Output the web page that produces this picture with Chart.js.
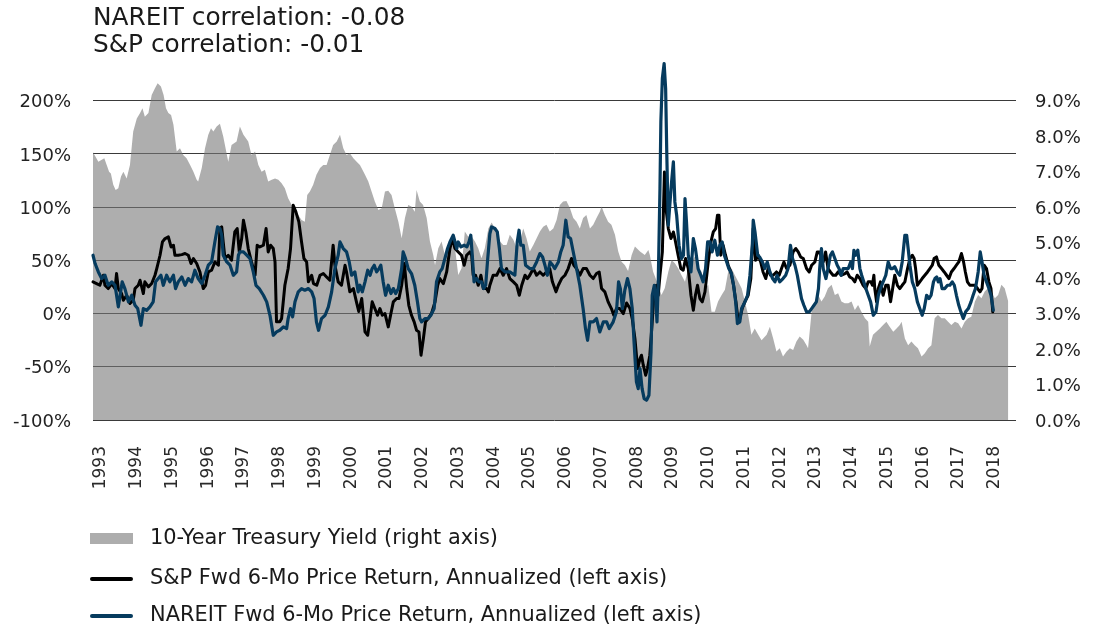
<!DOCTYPE html>
<html>
<head>
<meta charset="utf-8">
<script src="https://cdn.jsdelivr.net/npm/chart.js@4.4.1/dist/chart.umd.min.js"></script>
<style>
  body { margin: 0; background: #fff; }
  #wrap { position: relative; width: 1097px; height: 631px; font-family: "DejaVu Sans", sans-serif; color: #1a1a1a; }
  #chart { position: absolute; left: 0; top: 0; }
  .title { position: absolute; left: 93px; top: 3px; font-size: 24.8px; line-height: 27px; white-space: nowrap; }
  .leg-text { position: absolute; left: 150px; font-size: 20.9px; line-height: 24px; white-space: nowrap; }
  .swatch { position: absolute; left: 90px; width: 43px; }
</style>
</head>
<body>
<div id="wrap">
  <canvas id="chart" width="1097" height="631"></canvas>
  <div class="title">NAREIT correlation: -0.08<br>S&amp;P correlation: -0.01</div>

  <div class="swatch" style="top:533px;height:11px;background:#adadad"></div>
  <div class="leg-text" style="top:525px">10-Year Treasury Yield (right axis)</div>
  <div class="swatch" style="top:577px;height:4px;background:#000;border-radius:2px"></div>
  <div class="leg-text" style="top:565px">S&amp;P Fwd 6-Mo Price Return, Annualized (left axis)</div>
  <div class="swatch" style="top:614px;height:4px;background:#063b5e;border-radius:2px"></div>
  <div class="leg-text" style="top:602px">NAREIT Fwd 6-Mo Price Return, Annualized (left axis)</div>
</div>

<script>
// x values are months after Nov 1992 (first point of the chart)
const START_YEAR = 1992 + 10 / 12;

const yearLabels = [1993, 1994, 1995, 1996, 1997, 1998, 1999, 2000, 2001, 2002, 2003, 2004, 2005,
  2006, 2007, 2008, 2009, 2010, 2011, 2012, 2013, 2014, 2015, 2016, 2017, 2018];
const leftTicks = [-100, -50, 0, 50, 100, 150, 200];
const rightTicks = [0, 1, 2, 3, 4, 5, 6, 7, 8, 9];

// 10-Year Treasury Yield (right axis, %)
const yieldMonths = [0, 1.8, 3.8, 4.6, 5.4, 6.0, 6.8, 7.6, 8.5, 9.4, 10.2, 11.3, 12.4, 13.5, 14.7, 15.8,
  16.6, 17.4, 18.6, 19.7, 20.8, 21.7, 22.8, 23.7, 24.5, 25.3, 26.2, 27.0, 28.1, 29.2, 30.3, 31.4, 32.6,
  33.7, 34.8, 35.3, 36.5, 37.6, 38.7, 39.6, 40.4, 41.5, 42.6, 43.7, 45.4, 46.5, 48.2, 49.3, 50.5, 52.1,
  53.2, 54.4, 55.5, 56.6, 57.7, 58.8, 60.0, 61.1, 62.2, 63.3, 64.4, 65.5, 66.7, 67.8, 68.9, 70.0, 71.1,
  71.9, 72.8, 73.9, 75.0, 76.2, 77.3, 78.4, 79.5, 80.6, 81.8, 82.9, 84.0, 85.1, 86.2, 87.4, 88.5, 89.6,
  91.3, 92.4, 93.5, 94.6, 95.8, 96.9, 98.0, 99.1, 100.2, 101.3, 102.5, 103.6, 104.7, 105.8, 106.9, 108.0,
  108.6, 109.7, 110.8, 112.0, 113.1, 114.2, 114.8, 115.9, 117.0, 118.1, 119.3, 120.4, 121.5, 122.6, 123.7,
  124.8, 125.9, 127.1, 128.2, 129.3, 130.4, 131.5, 132.7, 133.8, 135.5, 136.6, 137.7, 138.8, 139.9, 141.1,
  142.2, 143.3, 144.4, 145.5, 146.6, 147.8, 148.9, 150.0, 151.1, 152.2, 153.3, 154.5, 155.6, 156.7, 157.8,
  158.9, 160.1, 161.2, 162.3, 163.4, 164.5, 165.6, 166.8, 167.9, 169.0, 170.1, 170.7, 171.8, 172.9, 174.0,
  175.2, 176.3, 177.4, 178.5, 179.6, 180.8, 181.9, 183.6, 185.2, 186.4, 186.9, 188.0, 189.7, 190.8, 191.9,
  193.1, 194.2, 195.3, 196.4, 197.5, 198.7, 199.8, 200.9, 202.0, 203.1, 204.3, 205.4, 206.5, 207.6, 208.7,
  209.8, 211.0, 212.1, 213.2, 214.3, 215.4, 216.6, 217.7, 218.8, 219.9, 221.0, 222.1, 223.3, 224.4, 226.1,
  227.2, 228.3, 229.4, 230.5, 231.6, 232.8, 233.9, 235.0, 236.1, 237.2, 238.4, 239.5, 240.0, 241.2, 242.3,
  243.4, 244.5, 245.6, 246.7, 247.9, 249.0, 250.1, 251.2, 252.3, 253.5, 254.6, 255.7, 256.8, 257.9, 259.1,
  260.2, 260.7, 261.8, 262.9, 264.1, 265.2, 266.3, 267.4, 268.6, 269.7, 270.8, 271.4, 272.5, 273.6, 274.7,
  275.8, 276.9, 278.1, 279.2, 280.3, 281.4, 282.5, 283.6, 284.8, 285.9, 287.0, 288.1, 289.3, 290.4, 291.5,
  292.6, 293.7, 294.8, 296.0, 297.1, 298.2, 299.3, 300.4, 301.6, 302.7, 303.8, 304.9, 306.0, 307.2];
const yieldValues = [7.55, 7.28, 7.38, 7.19, 7.0, 6.95, 6.63, 6.48, 6.53, 6.86, 7.0, 6.81, 7.19, 8.13, 8.5, 8.65,
  8.79, 8.55, 8.65, 9.16, 9.35, 9.49, 9.40, 9.16, 8.79, 8.65, 8.6, 8.32, 7.57, 7.66, 7.47, 7.38, 7.19,
  7.0, 6.77, 6.72, 7.1, 7.66, 8.04, 8.22, 8.13, 8.27, 8.35, 8.0, 7.28, 7.75, 7.85, 8.27, 8.04, 7.85,
  7.47, 7.57, 7.19, 7.0, 7.05, 6.72, 6.77, 6.81, 6.77, 6.67, 6.53, 6.25, 6.06, 5.87, 5.78, 5.64, 5.59,
  6.34, 6.44, 6.63, 6.91, 7.10, 7.19, 7.19, 7.47, 7.75, 7.85, 8.04, 7.66, 7.47, 7.52, 7.38, 7.28, 7.19,
  6.91, 6.72, 6.44, 6.16, 5.92, 5.97, 6.44, 6.46, 6.34, 5.97, 5.59, 5.12, 5.69, 6.06, 6.02, 5.87,
  6.48, 6.16, 6.06, 5.69, 5.03, 4.65, 4.37, 4.84, 5.03, 4.65, 4.84, 4.93, 4.84, 4.09, 4.28,
  5.31, 5.17, 5.17, 5.03, 4.84, 4.56, 4.84, 5.40, 5.57, 5.31, 5.03, 4.93, 4.93, 5.22, 5.08,
  4.84, 5.03, 5.40, 5.12, 4.75, 4.93, 5.12, 5.31, 5.45, 5.50, 5.31, 5.40, 5.64, 6.06, 6.16,
  6.17, 5.97, 5.69, 5.59, 5.40, 5.69, 5.78, 5.40, 5.50, 5.69, 5.87, 6.02, 5.78, 5.59, 5.50,
  5.22, 4.75, 4.46, 4.37, 4.2, 4.65, 4.89, 4.75, 4.65, 4.79, 4.65, 4.18, 3.81, 3.52, 3.71,
  4.18, 4.51, 4.42, 4.28, 4.09, 3.90, 4.28, 4.46, 4.61, 4.28, 4.18, 3.71, 3.81, 3.05, 3.05,
  3.34, 3.52, 3.67, 4.18, 4.28, 4.09, 3.90, 3.71, 3.34, 2.96, 2.40, 2.58, 2.40, 2.25, 2.40,
  2.63, 2.30, 1.93, 2.02, 1.79, 1.93, 2.02, 1.97, 2.21, 2.35, 2.26, 2.11, 2.02, 3.05, 3.34,
  3.52, 3.34, 3.48, 3.71, 3.81, 3.52, 3.57, 3.34, 3.29, 3.29, 3.34, 3.10, 3.24, 3.05, 2.87,
  2.77, 2.07, 2.40, 2.49, 2.58, 2.68, 2.77, 2.63, 2.49, 2.58, 2.68, 2.77, 2.30, 2.11, 2.21,
  2.11, 2.02, 1.79, 1.88, 2.02, 2.11, 2.87, 2.96, 2.87, 2.87, 2.77, 2.68, 2.77, 2.73, 2.58,
  2.77, 2.87, 2.91, 3.34, 3.52, 3.43, 3.62, 3.71, 3.62, 3.43, 3.52, 3.81, 3.71, 3.34];

// S&P forward 6-month price return, annualized (left axis, %)
const spMonths = [0, 1.2, 2.3, 3.5, 4.0, 5.1, 6.3, 7.4, 7.9, 8.5, 9.6, 10.2, 11.3, 12.4, 13.5, 14.1, 15.2,
  15.8, 16.9, 17.4, 18.6, 19.7, 20.8, 21.4, 22.5, 23.3, 24.2, 25.3, 26.2, 27.0, 27.5, 28.6, 29.8, 30.9,
  32.0, 32.9, 33.7, 34.8, 35.9, 37.0, 37.8, 38.7, 39.8, 40.9, 42.1, 42.6, 43.2, 43.7, 44.3, 45.4, 46.5,
  47.6, 48.4, 49.1, 49.9, 50.5, 51.3, 52.1, 53.2, 54.4, 55.1, 56.0, 57.2, 58.1, 58.8, 59.6, 60.5, 61.1,
  61.6, 62.7, 63.3, 64.4, 65.5, 66.3, 67.2, 68.1, 69.1, 70.0, 70.8, 71.7, 72.3, 73.4, 74.0, 75.1, 76.2,
  77.3, 78.4, 79.5, 80.6, 81.2, 82.3, 83.4, 84.6, 85.1, 86.2, 87.4, 88.5, 89.2, 90.2, 91.3, 92.2, 93.0,
  93.7, 94.6, 95.5, 96.3, 97.1, 98.0, 99.1, 100.0, 100.8, 101.9, 102.7, 103.6, 104.5, 105.3, 106.0, 106.9,
  107.8, 108.6, 109.4, 110.1, 110.9, 111.6, 112.5, 113.6, 114.8, 115.7, 116.4, 117.6, 118.7, 119.8, 120.6,
  121.5, 122.6, 123.7, 124.6, 125.4, 126.5, 127.1, 127.6, 128.4, 129.3, 130.2, 131.0, 132.1, 132.7, 133.2,
  134.3, 135.5, 136.6, 137.7, 138.8, 139.9, 141.1, 142.2, 143.1, 143.9, 145.0, 145.8, 146.6, 147.8, 148.9,
  150.0, 151.1, 152.2, 153.3, 154.2, 155.4, 156.2, 157.3, 158.4, 159.5, 160.6, 161.4, 162.3, 163.4, 164.5,
  165.6, 166.8, 167.9, 169.0, 169.9, 170.7, 171.8, 172.9, 174.0, 174.8, 175.7, 176.8, 178.0, 179.1, 180.2,
  181.0, 181.9, 182.8, 183.6, 184.1, 184.7, 185.5, 186.1, 186.9, 187.7, 188.4, 189.1, 189.7, 190.3, 191.1,
  191.8, 192.2, 193.1, 194.0, 194.8, 195.3, 196.4, 197.3, 198.1, 198.9, 199.8, 200.7, 201.5, 202.2, 202.9,
  203.7, 204.5, 205.4, 206.5, 207.4, 208.2, 209.0, 209.6, 210.1, 210.7, 211.5, 212.3, 213.2, 214.1, 215.0,
  215.8, 216.6, 217.1, 217.9, 218.8, 219.9, 220.8, 221.6, 222.4, 223.3, 224.1, 224.9, 225.8, 226.6, 227.4,
  228.3, 229.4, 230.3, 231.1, 231.9, 232.8, 233.9, 235.0, 235.9, 236.7, 237.5, 238.4, 239.5, 240.4, 241.2,
  242.3, 243.1, 243.8, 244.6, 245.1, 245.9, 246.7, 247.5, 248.4, 249.3, 250.1, 251.2, 252.4, 253.1, 254.0,
  254.9, 255.7, 256.5, 257.4, 258.5, 259.4, 260.2, 261.1, 261.6, 262.1, 262.4, 263.0, 263.6, 264.3, 265.2,
  266.1, 266.9, 267.7, 268.4, 269.1, 270.0, 270.8, 271.6, 272.5, 273.4, 274.2, 275.0, 275.6, 276.1, 276.7,
  277.5, 278.3, 279.2, 280.1, 280.9, 281.7, 282.3, 283.1, 283.9, 284.8, 285.7, 286.5, 287.3, 288.1, 289.0,
  289.8, 290.6, 291.5, 292.2, 292.8, 293.5, 294.3, 295.1, 296.0, 296.9, 297.7, 298.4, 299.1, 299.9, 300.7,
  301.4, 302.0];
const spValues = [29.8, 28.2, 26.6, 36.0, 26.6, 23.5, 28.2, 23.5, 37.6, 23.5, 18.8, 12.5, 17.2, 9.4, 12.5, 23.5, 26.6,
  31.3, 18.8, 29.8, 25.1, 28.2, 36.0, 42.3, 54.8, 67.3, 70.5, 72.0, 62.6, 64.2, 54.8, 54.8, 55.4, 56.4,
  54.8, 47.0, 51.7, 47.0, 39.1, 23.5, 26.6, 39.1, 40.7, 48.5, 45.4, 79.9, 81.4, 67.3, 51.7, 54.8, 50.1,
  76.7, 79.9, 57.9, 70.5, 87.7, 76.7, 61.1, 48.5, 36.0, 64.2, 62.6, 64.2, 79.9, 57.9, 64.2, 61.1, 48.5,
  -7.8, -7.8, -4.7, 26.6, 42.3, 61.1, 101.8, 95.5, 86.1, 67.3, 51.7, 48.5, 29.8, 36.0, 28.2, 26.6, 36.0,
  37.6, 34.4, 31.3, 64.2, 45.4, 29.8, 26.6, 45.4, 39.1, 20.4, 23.5, 10.0, 2.0, 14.1, -17.2, -20.4, -4.7,
  11.0, 4.7, -1.6, 4.7, -1.6, 0, -12.5, 0, 11.0, 14.1, 14.1, 26.6, 47.0, 23.5, 7.8, -1.6,
  -7.8, -15.7, -17.2, -39.1, -23.5, -7.8, -4.7, 0, 11.0, 26.6, 32.9, 28.2, 39.1, 61.1, 70.5,
  61.1, 57.9, 54.8, 45.4, 54.8, 57.9, 54.8, 36.0, 36.0, 26.6, 36.0, 23.5, 23.5, 20.4, 26.6,
  36.0, 36.0, 42.3, 36.0, 42.3, 32.9, 29.8, 26.6, 17.2, 26.6, 36.0, 32.9, 36.0, 42.3, 36.0,
  39.1, 36.0, 39.1, 42.3, 29.8, 20.4, 26.6, 32.9, 36.0, 42.3, 51.7, 45.4, 42.3, 36.0, 42.3,
  42.3, 36.0, 32.9, 37.6, 39.1, 23.5, 20.4, 11.0, 4.7, -1.6, 4.7, 4.7, 0, 10.0, 5.0,
  -5.0, -23.5, -51.7, -42.3, -39.1, -48.5, -57.9, -51.7, -39.1, -7.8, 23.5, 26.6, 17.2, 36.0, 57.9,
  133.1, 101.8, 79.9, 70.5, 76.7, 70.5, 54.8, 42.3, 40.7, 51.7, 42.3, 17.2, 3.1, 17.2, 26.6,
  14.1, 11.0, 20.4, 48.5, 67.3, 76.7, 79.9, 92.4, 92.4, 54.8, 64.2, 54.8, 45.4, 39.1, 26.6,
  11.0, -7.8, -4.7, 4.7, 11.0, 17.2, 32.9, 80.0, 50.0, 54.8, 48.5, 39.1, 32.9, 42.3, 36.0,
  36.0, 39.1, 36.0, 42.3, 48.5, 42.3, 45.4, 57.9, 61.1, 57.9, 53.2, 51.7, 42.3, 39.1, 45.4,
  48.5, 57.9, 57.9, 51.7, 48.5, 57.9, 42.3, 39.1, 36.0, 36.0, 39.1, 36.0, 37.6, 39.1, 34.4,
  32.9, 29.8, 36.0, 32.9, 26.6, 23.5, 29.8, 29.8, 26.6, 36.0, 23.5, 11.0, 23.5, 29.8, 17.2,
  26.6, 26.6, 11.0, 23.5, 36.0, 26.6, 23.5, 26.6, 29.8, 42.3, 51.7, 54.8, 51.7, 42.3, 26.6,
  29.8, 32.9, 36.0, 39.1, 42.3, 45.4, 51.7, 53.2, 45.4, 42.3, 39.1, 36.0, 32.9, 39.1, 42.3,
  45.4, 48.5, 56.4, 48.5, 39.1, 29.8, 26.6, 26.6, 26.6, 23.5, 20.4, 23.5, 45.4, 42.3, 29.8,
  23.5, 1.6];

// NAREIT forward 6-month price return, annualized (left axis, %)
const reitMonths = [0, 0.7, 1.8, 2.9, 4.0, 5.1, 6.3, 7.4, 8.5, 9.1, 9.8, 10.7, 11.9, 13.0, 14.1, 15.0, 16.1,
  16.9, 18.0, 19.1, 20.2, 21.0, 21.9, 22.8, 23.6, 24.7, 25.8, 27.0, 27.7, 28.6, 29.8, 30.9, 32.0, 33.1,
  34.2, 35.3, 36.5, 37.6, 38.7, 39.8, 40.9, 41.8, 42.6, 43.2, 43.7, 44.9, 46.0, 47.1, 48.2, 48.8, 49.3,
  50.5, 51.6, 52.7, 53.8, 54.7, 55.8, 57.2, 58.3, 59.4, 60.5, 61.6, 62.7, 63.9, 65.0, 65.5, 66.3, 67.0,
  67.8, 68.9, 70.0, 71.1, 72.3, 73.4, 74.2, 75.0, 75.7, 76.7, 77.9, 79.0, 80.1, 81.2, 82.3, 82.9, 84.0,
  85.1, 86.0, 86.8, 87.9, 89.0, 89.6, 90.4, 91.3, 92.2, 93.0, 93.7, 94.4, 95.2, 96.0, 96.6, 97.4, 98.2,
  99.1, 100.0, 100.8, 101.6, 102.5, 103.6, 104.1, 104.9, 105.8, 106.9, 108.0, 108.9, 109.7, 110.3, 111.4,
  112.5, 113.4, 114.5, 115.3, 116.4, 117.2, 118.1, 119.0, 119.8, 120.9, 122.1, 122.6, 123.5, 124.6, 125.5,
  126.2, 126.8, 127.3, 127.9, 128.7, 129.5, 130.4, 131.1, 131.8, 132.4, 133.2, 133.8, 134.9, 135.7, 136.4,
  137.1, 138.3, 139.9, 141.6, 142.4, 143.0, 143.6, 144.4, 145.2, 146.6, 147.8, 148.9, 150.0, 150.9, 151.7,
  152.5, 153.4, 154.3, 155.0, 156.2, 157.0, 157.8, 158.7, 159.5, 160.3, 161.2, 162.3, 163.4, 164.5, 165.3,
  166.0, 166.8, 167.9, 169.0, 170.1, 171.3, 172.4, 173.3, 174.6, 175.7, 176.4, 177.0, 177.7, 178.5, 179.4,
  180.2, 181.0, 181.6, 182.4, 183.0, 183.6, 184.3, 185.0, 185.8, 186.6, 187.3, 187.7, 188.4, 188.8, 189.3,
  189.7, 190.3, 190.6, 191.1, 191.7, 192.2, 192.6, 193.1, 193.6, 194.2, 194.8, 195.3, 195.9, 196.7, 197.5,
  198.2, 198.7, 199.2, 199.8, 200.7, 201.5, 202.2, 203.1, 204.0, 204.8, 205.6, 206.3, 207.1, 207.8, 208.7,
  209.6, 210.4, 211.2, 211.9, 212.7, 213.4, 214.3, 215.0, 215.7, 216.3, 217.1, 217.7, 218.8, 219.7, 220.5,
  221.3, 221.6, 222.2, 223.1, 223.8, 224.7, 225.5, 226.3, 227.2, 228.1, 228.9, 229.6, 230.5, 231.6, 232.5,
  233.3, 234.1, 234.8, 235.6, 236.4, 237.0, 237.8, 238.6, 239.5, 240.4, 241.2, 242.0, 242.8, 243.5, 243.9,
  244.5, 245.1, 246.0, 246.7, 247.5, 248.2, 249.0, 249.8, 250.4, 251.1, 251.8, 252.7, 253.5, 254.3, 254.9,
  255.4, 256.0, 256.7, 257.4, 258.0, 258.7, 259.4, 260.2, 261.0, 261.9, 262.8, 263.6, 264.3, 265.2, 266.1,
  266.9, 267.7, 268.4, 269.1, 269.9, 270.8, 271.6, 272.5, 273.1, 273.6, 274.2, 275.0, 275.8, 276.7, 277.5,
  278.3, 279.0, 279.8, 280.6, 281.3, 282.1, 282.6, 283.2, 283.7, 284.3, 285.0, 285.9, 286.8, 287.6, 288.4,
  289.1, 289.8, 290.6, 291.3, 292.1, 292.9, 293.8, 294.7, 295.4, 296.2, 297.1, 297.8, 298.4, 299.1, 299.9,
  300.7, 301.4, 302.2];
const reitValues = [54.8, 47.0, 39.1, 32.9, 36.0, 26.6, 29.8, 26.6, 6.3, 17.2, 29.8, 23.5, 11.0, 17.2, 7.8, 4.7, -11.0,
  4.7, 3.1, 6.3, 11.0, 29.8, 32.9, 36.0, 26.6, 36.0, 29.8, 36.0, 23.5, 29.8, 34.4, 26.6, 32.9, 29.8,
  40.7, 32.9, 28.2, 36.0, 45.4, 48.5, 67.3, 81.4, 79.9, 73.6, 54.8, 48.5, 45.4, 36.0, 39.1, 54.8, 57.9,
  57.9, 54.8, 51.7, 39.1, 26.6, 23.5, 17.2, 11.0, -1.6, -20.4, -17.2, -15.7, -12.5, -14.1, -4.7, 4.7, -3.1,
  11.0, 20.4, 23.5, 21.9, 23.5, 20.4, 14.1, -7.8, -15.7, -4.7, -1.6, 6.3, 20.4, 42.3, 54.8, 67.3, 61.1,
  57.9, 48.5, 36.0, 39.1, 20.4, 26.6, 20.4, 29.8, 40.7, 36.0, 42.3, 45.4, 39.1, 42.3, 45.4, 29.8, 17.2,
  26.6, 18.8, 23.5, 18.8, 23.5, 42.3, 57.9, 51.7, 42.3, 37.6, 26.6, 11.0, -4.7, -7.8, -4.7,
  -4.7, -1.6, 4.7, 29.8, 39.1, 42.3, 51.7, 61.1, 67.3, 73.6, 61.1, 67.3, 62.6, 64.2, 62.6,
  67.3, 73.6, 54.8, 29.8, 32.9, 29.8, 29.8, 23.5, 26.6, 48.5, 75.0, 81.4, 79.9, 76.7, 61.1,
  42.3, 39.1, 39.1, 36.0, 67.3, 78.3, 64.2, 64.2, 45.4, 42.3, 42.3, 48.5, 56.4, 53.2, 45.4,
  36.0, 48.5, 45.4, 42.3, 48.5, 57.9, 64.2, 87.7, 72.0, 70.5, 57.9, 42.3, 26.6, 4.7, -14.1,
  -25.1, -7.8, -7.8, -4.7, -17.2, -7.8, -7.8, -14.1, -7.8, 1.6, 29.8, 23.5, 4.7, 22.0, 32.9,
  23.5, 4.7, -26.6, -64.2, -70.5, -51.7, -70.5, -79.9, -81.4, -76.7, -36.0, 17.2, 26.6, 17.2, -7.8,
  26.6, 117.4, 180.1, 220.8, 234.9, 211.4, 148.8, 83.0, 101.8, 123.7, 142.5, 104.9, 92.4, 64.2, 51.7,
  54.8, 108.0, 86.1, 54.8, 39.1, 70.5, 61.1, 42.3, 36.0, 29.8, 42.3, 67.3, 67.3, 57.9, 68.9,
  54.8, 64.2, 67.3, 54.8, 48.5, 42.3, 37.6, 26.6, 11.0, -9.4, -7.8, 4.7, 11.0, 17.2, 36.0,
  64.2, 87.7, 76.7, 54.8, 53.0, 48.5, 42.3, 48.5, 39.1, 32.9, 29.8, 36.0, 29.8, 32.9, 36.0,
  42.3, 64.2, 51.7, 45.4, 36.0, 26.6, 14.1, 7.8, 1.6, 1.6, 4.7, 7.8, 11.0, 23.5, 42.3,
  61.1, 42.3, 32.9, 42.3, 54.8, 57.9, 51.7, 45.4, 42.3, 36.0, 42.3, 42.3, 42.3, 48.5, 42.3,
  59.5, 54.8, 59.5, 42.3, 36.0, 29.8, 23.5, 17.2, 11.0, -1.6, 1.6, 17.2, 23.5, 29.8, 36.0,
  48.5, 42.3, 42.3, 44.0, 39.1, 36.0, 48.5, 73.6, 73.6, 61.1, 45.4, 29.8, 23.5, 11.0, 4.7,
  -1.6, 4.7, 17.2, 14.1, 17.2, 29.8, 32.9, 34.4, 29.8, 32.9, 23.5, 23.5, 26.6, 26.6, 29.8,
  26.6, 17.2, 7.8, 1.6, -4.7, 1.6, 4.7, 11.0, 17.2, 23.5, 39.1, 57.9, 48.5, 36.0, 29.8,
  23.5, 17.2, 3.1];

function toPoints(months, values) {
  return months.map((m, i) => ({ x: START_YEAR + m / 12, y: values[i] }));
}

const tickFont = { family: 'DejaVu Sans', size: 18 };

new Chart(document.getElementById('chart'), {
  type: 'line',
  data: {
    datasets: [
      {
        label: 'NAREIT Fwd 6-Mo Price Return, Annualized (left axis)',
        data: toPoints(reitMonths, reitValues),
        yAxisID: 'y',
        borderColor: '#063b5e',
        borderWidth: 3.2,
        pointRadius: 0,
        borderJoinStyle: 'round',
        borderCapStyle: 'round',
        clip: false,
        order: 1
      },
      {
        label: 'S&P Fwd 6-Mo Price Return, Annualized (left axis)',
        data: toPoints(spMonths, spValues),
        yAxisID: 'y',
        borderColor: '#000000',
        borderWidth: 3,
        pointRadius: 0,
        borderJoinStyle: 'round',
        borderCapStyle: 'round',
        clip: false,
        order: 2
      },
      {
        label: '10-Year Treasury Yield (right axis)',
        data: toPoints(yieldMonths, yieldValues),
        yAxisID: 'y1',
        backgroundColor: 'rgba(120,120,120,0.6)',
        borderWidth: 0,
        pointRadius: 0,
        fill: 'origin',
        order: 3
      }
    ]
  },
  options: {
    responsive: false,
    animation: false,
    events: [],
    layout: { padding: { top: 80, left: 0, right: 0, bottom: 131 } },
    plugins: { legend: { display: false }, tooltip: { enabled: false } },
    scales: {
      x: {
        type: 'linear',
        min: START_YEAR,
        max: START_YEAR + 309.8 / 12,
        afterBuildTicks: scale => { scale.ticks = yearLabels.map(v => ({ value: v })); },
        afterFit: scale => { scale.height = 80; },
        grid: { display: false },
        border: { display: false },
        ticks: {
          autoSkip: false,
          minRotation: 90,
          maxRotation: 90,
          padding: 18,
          labelOffset: 2,
          color: '#2a2a2a',
          font: { family: 'DejaVu Sans', size: 17 },
          callback: v => String(v)
        }
      },
      y: {
        position: 'left',
        min: -100,
        max: 219.45,
        afterBuildTicks: scale => { scale.ticks = leftTicks.map(v => ({ value: v })); },
        afterFit: scale => { scale.width = 93; },
        grid: { color: '#3a3a3a', lineWidth: 1, drawTicks: false },
        border: { display: false },
        ticks: { padding: 22, labelOffset: 2, color: '#222', font: tickFont, callback: v => v + '%' }
      },
      y1: {
        position: 'right',
        min: 0,
        max: 9.583,
        afterBuildTicks: scale => { scale.ticks = rightTicks.map(v => ({ value: v })); },
        afterFit: scale => { scale.width = 81; },
        grid: { display: false, drawTicks: false },
        border: { display: false },
        ticks: { padding: 19, labelOffset: 2, color: '#222', font: tickFont, callback: v => v.toFixed(1) + '%' }
      }
    }
  }
});
</script>
</body>
</html>
